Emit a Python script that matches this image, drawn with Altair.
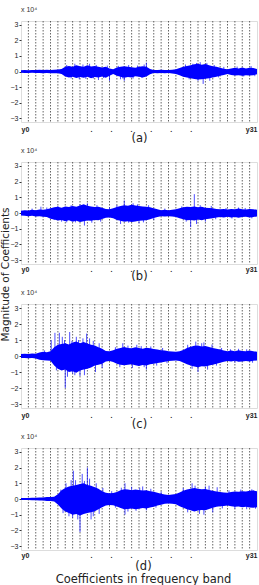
import altair as alt
import pandas as pd

# sample positions along the 32 frequency bands (half-band steps)
X = [i * 0.5 for i in range(65)]

# envelope of the coefficients (x 10^4)
a_hi = [0.08,0.10,0.08,0.10,0.09,0.11,0.10,0.12,0.10,0.12,0.13,0.16,
        0.30,0.36,0.30,0.40,0.34,0.30,0.40,0.32,0.36,0.30,0.26,0.30,0.20,0.14,
        0.26,0.30,0.34,0.30,0.28,0.24,0.30,0.34,0.30,0.16,
        0.10,0.09,0.12,0.10,0.10,0.12,0.15,0.22,
        0.30,0.36,0.40,0.46,0.50,0.44,0.48,0.40,0.34,0.30,0.24,0.18,
        0.14,0.20,0.24,0.20,0.26,0.20,0.24,0.22,0.16]
a_lo = [-0.08,-0.09,-0.10,-0.08,-0.10,-0.09,-0.11,-0.10,-0.12,-0.11,-0.12,-0.16,
        -0.32,-0.38,-0.34,-0.42,-0.36,-0.40,-0.34,-0.44,-0.36,-0.38,-0.32,-0.40,-0.28,-0.16,
        -0.28,-0.34,-0.40,-0.36,-0.38,-0.30,-0.34,-0.38,-0.32,-0.18,
        -0.10,-0.11,-0.10,-0.12,-0.10,-0.13,-0.16,-0.24,
        -0.34,-0.38,-0.44,-0.48,-0.52,-0.50,-0.46,-0.44,-0.38,-0.34,-0.28,-0.22,
        -0.16,-0.22,-0.26,-0.24,-0.28,-0.24,-0.26,-0.24,-0.18]
# isolated spikes (band position, peak value)
a_spx = [6.2, 6.8, 7.3, 7.9, 8.4, 8.8, 9.3, 9.8, 10.2, 10.5, 11.2, 11.7, 12.0,
         13.2, 13.5, 13.8, 14.0, 14.6, 15.2, 15.8, 16.4, 16.7, 17.0,
         22.3, 22.8, 23.3, 23.8, 24.0, 24.3, 24.7, 25.2, 25.6, 26.2, 26.8, 27.5,
         29.3, 30.2, 31.2, 31.7]
a_spv = [0.42, -0.45, 0.50, -0.50, 0.45, -0.48, 0.50, -0.45, 0.42, -0.55, -0.42, 0.38, -0.60,
         0.36, -0.50, -0.45, -0.60, 0.42, -0.45, 0.38, -0.42, 0.45, 0.57,
         0.45, -0.50, 0.50, 0.55, -0.60, 0.60, -0.80, 0.55, -0.60, 0.42, -0.38, 0.30,
         0.32, -0.32, 0.35, -0.30]

b_hi = [0.15,0.18,0.16,0.20,0.18,0.22,0.20,0.24,
        0.30,0.36,0.40,0.34,0.42,0.38,0.44,0.40,0.48,0.55,0.46,0.42,0.38,0.40,0.34,
        0.26,0.24,0.30,
        0.38,0.44,0.50,0.46,0.52,0.48,0.44,0.42,0.40,0.36,0.30,0.24,
        0.18,0.20,0.18,0.20,0.24,
        0.30,0.36,0.40,0.38,0.42,0.36,0.40,0.34,0.32,0.30,0.26,
        0.24,0.26,0.22,0.26,0.24,0.28,0.24,0.22,0.26,0.24,0.20]
b_lo = [-0.16,-0.18,-0.20,-0.17,-0.22,-0.20,-0.24,-0.26,
        -0.36,-0.42,-0.48,-0.44,-0.52,-0.46,-0.56,-0.50,-0.58,-0.52,-0.48,-0.50,-0.44,-0.46,-0.38,
        -0.30,-0.28,-0.34,
        -0.44,-0.50,-0.56,-0.52,-0.58,-0.54,-0.50,-0.48,-0.46,-0.40,-0.32,-0.26,
        -0.20,-0.22,-0.20,-0.22,-0.26,
        -0.34,-0.40,-0.46,-0.44,-0.48,-0.42,-0.46,-0.40,-0.36,-0.34,-0.28,
        -0.26,-0.28,-0.24,-0.28,-0.26,-0.30,-0.26,-0.24,-0.28,-0.26,-0.22]
b_spx = [1.5, 2.7, 3.5, 4.5, 5.0, 5.5, 6.2, 6.8, 7.4, 8.0, 8.6, 9.0, 9.6, 10.3, 10.8,
         12.0, 13.0, 13.5, 14.0, 14.6, 15.2, 15.8, 16.0, 16.6, 17.3, 18.0, 19.5,
         21.8, 22.4, 23.0, 23.5, 23.8, 24.3, 25.0, 25.8, 26.4, 27.8, 28.6, 29.5, 30.4, 31.3]
b_spv = [0.28, 0.40, 0.35, -0.45, 0.45, -0.55, -0.60, 0.50, -0.60, 0.55, -0.80, 0.62, -0.62, 0.50, -0.55,
         0.35, 0.50, -0.70, 0.80, -0.62, 0.62, 0.55, -0.65, -0.60, 0.50, -0.45, 0.28,
         0.42, -0.55, -0.90, 1.20, -0.70, 0.50, -0.55, 0.45, -0.40, 0.32, -0.35, 0.35, 0.32, -0.34]

c_hi = [0.12,0.14,0.12,0.15,0.14,
        0.22,0.26,0.24,0.30,
        0.55,0.70,0.75,0.80,0.72,0.85,0.90,0.80,0.88,0.78,0.70,0.65,0.55,0.45,
        0.32,0.30,0.36,
        0.45,0.50,0.56,0.50,0.48,0.54,0.50,0.46,0.52,0.48,0.44,0.40,0.36,0.34,0.30,0.28,
        0.26,0.30,0.38,
        0.50,0.58,0.64,0.66,0.60,0.62,0.56,0.50,0.46,0.40,0.34,
        0.30,0.34,0.30,0.36,0.32,0.30,0.34,0.30,0.26]
c_lo = [-0.12,-0.13,-0.14,-0.13,-0.15,
        -0.24,-0.26,-0.28,-0.30,
        -0.60,-0.80,-0.90,-0.85,-1.00,-0.95,-1.05,-0.90,-0.85,-0.80,-0.72,-0.60,-0.55,-0.48,
        -0.34,-0.32,-0.38,
        -0.48,-0.54,-0.58,-0.55,-0.52,-0.58,-0.62,-0.56,-0.60,-0.52,-0.48,-0.44,-0.40,-0.36,-0.32,-0.30,
        -0.28,-0.32,-0.40,
        -0.52,-0.60,-0.66,-0.70,-0.64,-0.66,-0.60,-0.54,-0.48,-0.42,-0.36,
        -0.32,-0.34,-0.30,-0.36,-0.34,-0.32,-0.34,-0.30,-0.28]
c_spx = [3.2, 4.1, 4.6, 4.8, 5.2, 5.6, 5.9, 6.0, 6.3, 6.6, 6.9, 7.0, 7.3, 7.5, 7.8, 8.0, 8.4, 8.6,
         8.9, 9.3, 9.8, 10.1, 10.6, 11.0, 12.8, 13.4, 13.8, 14.5, 15.1, 15.7, 16.3, 16.7, 17.0,
         17.6, 18.4, 19.2, 19.8, 22.6, 23.2, 23.7, 24.0, 24.5, 24.8, 25.3, 25.9, 26.5, 27.2,
         28.4, 29.0, 29.5, 30.6, 31.4]
c_spv = [0.35, 1.00, 1.45, -0.90, 1.45, 1.20, 1.00, -2.00, -1.30, 1.50, 0.95, -1.10, -1.20, 1.20, 1.00, -1.25, 1.10, -1.20,
         1.40, 1.10, 0.95, -1.00, 0.80, -0.75, 0.55, -0.70, 0.80, 0.65, -0.75, 0.70, 0.62, -0.70, -0.85,
         0.60, -0.60, 0.50, -0.45, 0.70, -0.80, 0.90, -1.00, 0.80, 0.85, -0.85, 0.72, -0.60, 0.50,
         0.42, -0.42, 0.45, 0.42, -0.42]

d_hi = [0.06,0.07,0.06,0.08,0.08,0.09,0.10,0.12,0.12,0.15,
        0.30,0.55,0.70,0.80,0.85,0.90,0.95,1.00,0.90,0.85,0.75,0.65,0.50,
        0.40,0.36,0.38,0.45,
        0.55,0.62,0.60,0.56,0.60,0.58,0.54,0.56,0.50,0.46,0.40,0.34,
        0.28,0.26,0.28,0.32,
        0.42,0.52,0.60,0.66,0.70,0.66,0.62,0.64,0.58,0.52,0.48,0.44,0.42,
        0.40,0.44,0.48,0.46,0.50,0.48,0.52,0.54,0.50]
d_lo = [-0.06,-0.06,-0.07,-0.08,-0.08,-0.10,-0.10,-0.12,-0.13,-0.16,
        -0.35,-0.60,-0.80,-0.90,-1.00,-0.95,-1.05,-0.95,-0.90,-0.85,-0.78,-0.65,-0.52,
        -0.42,-0.38,-0.40,-0.48,
        -0.58,-0.66,-0.64,-0.60,-0.66,-0.62,-0.58,-0.60,-0.54,-0.50,-0.42,-0.36,
        -0.30,-0.28,-0.30,-0.34,
        -0.46,-0.56,-0.66,-0.72,-0.80,-0.74,-0.70,-0.72,-0.64,-0.56,-0.50,-0.46,-0.44,
        -0.42,-0.46,-0.50,-0.48,-0.52,-0.50,-0.54,-0.56,-0.52]
d_spx = [5.4, 5.7, 6.1, 6.5, 6.8, 7.0, 7.1, 7.4, 7.7, 8.0, 8.3, 8.6, 9.0, 9.3, 9.5, 9.8, 10.2,
         10.6, 11.1, 12.3, 12.8, 13.6, 14.1, 14.1, 14.5, 15.0, 15.6, 16.1, 16.5, 17.0, 17.6,
         18.3, 19.0, 22.0, 22.6, 23.2, 23.6, 24.2, 24.8, 25.0, 25.5, 26.0, 26.6, 27.3, 28.2,
         29.0, 29.8, 30.6, 31.3, 31.5, 31.8]
d_spv = [0.60, -0.90, 1.00, -1.10, 1.20, -1.20, 1.80, 1.20, -1.30, -2.10, 1.60, 1.15, 2.00, 1.30, -1.30, -1.10, 1.00,
         -0.95, 0.70, 0.50, -0.55, 0.72, 1.00, -1.00, -0.80, 0.78, -0.75, 0.72, 0.80, -0.72, 0.65,
         -0.55, 0.48, 0.70, -0.85, 1.00, 0.85, -0.95, -1.00, 0.80, 0.85, -0.85, 0.75, -0.60, 0.55,
         -0.62, 0.60, -0.65, 0.62, 0.55, -0.62]

# band boundaries (dashed grid) and x tick labels
GRID = list(range(1, 32))
TICK_POS = [0, 9.5, 12.2, 14.9, 17.6, 20.3, 23.0, 32]
TICK_TXT = ["y0", ".", ".", ".", ".", ".", ".", "y31"]
Y_TICKS = [-3, -2, -1, 0, 1, 2, 3]

label_expr = "'.'"
for p, t in zip(TICK_POS, TICK_TXT):
    label_expr = f"datum.value == {p} ? '{t}' : ({label_expr})"

FONT = "Liberation Sans"
WIDE = "DejaVu Sans"
BLUE = "#0000ff"


def panel(hi, lo, spx, spv, xtitle, h, lab_pad, title_pad, ytitle=None, title_x=None):
    df = pd.DataFrame({"x": X, "hi": hi, "lo": lo})
    sp = pd.DataFrame({"x": spx, "v": spv})
    gd = pd.DataFrame({"g": GRID})
    xs = alt.Scale(domain=[0, 32], nice=False, zero=False)
    ys = alt.Scale(domain=[-3.25, 3.25], nice=False, zero=False)
    yaxis_kw = dict(values=Y_TICKS, grid=False, tickSize=2, tickColor="#333",
                    labelFontSize=7, labelColor="#222", labelPadding=1,
                    domain=False, labelFont=FONT)
    if ytitle:
        yaxis_kw.update(title=ytitle, titleFontSize=10.5, titleFontWeight="normal",
                        titleFont=WIDE, titleColor="#222", titleX=-11, titleY=112)
    else:
        yaxis_kw.update(title=None)
    yaxis = alt.Axis(**yaxis_kw)
    xaxis_kw = dict(values=TICK_POS, labelExpr=label_expr, grid=False, ticks=False,
                    domain=False, labelFlush=True, labelFontSize=7,
                    labelFontWeight="bold", labelColor="#222", labelPadding=lab_pad,
                    labelFont=FONT, title=xtitle, titleFontSize=11.5,
                    titleFontWeight="normal", titleFont=WIDE, titleColor="#222",
                    titlePadding=title_pad, titleLineHeight=13, labelOverlap=False)
    if title_x is not None:
        xaxis_kw.update(titleX=title_x)
    xaxis = alt.Axis(**xaxis_kw)
    grid = alt.Chart(gd).mark_rule(strokeDash=[1.5, 1.5], color="#222",
                                   strokeWidth=0.7).encode(
        x=alt.X("g:Q", scale=xs, axis=xaxis))
    area = alt.Chart(df).mark_area(color=BLUE, opacity=1).encode(
        x=alt.X("x:Q", scale=xs, axis=xaxis),
        y=alt.Y("lo:Q", scale=ys, axis=yaxis),
        y2="hi:Q")
    spikes = alt.Chart(sp).mark_rule(color=BLUE, strokeWidth=0.7).encode(
        x=alt.X("x:Q", scale=xs, axis=xaxis),
        y=alt.Y("v:Q", scale=ys, axis=yaxis),
        y2=alt.Y2Datum(0))
    return alt.layer(grid, area, spikes).properties(
        width=236, height=h,
        title=alt.TitleParams("x 10\u2074", anchor="start", frame="group", fontSize=7,
                              fontWeight="normal", color="#333", font=FONT, offset=8))


pa = panel(a_hi, a_lo, a_spx, a_spv, "(a)", 101, 3, 0)
pb = panel(b_hi, b_lo, b_spx, b_spv, "(b)", 102, 1, -2, ytitle="Magnitude of Coefficients")
pc = panel(c_hi, c_lo, c_spx, c_spv, "(c)", 104, 3, 0)
pd_ = panel(d_hi, d_lo, d_spx, d_spv, ["(d)", "Coefficients in frequency band"], 102, 1, 2,
            title_x=122)

# fixed origin: plot area of panel (a) starts at (21, 21); page is 259 x 585
chart = alt.vconcat(pa, pb, pc, pd_, spacing=40, bounds="flush").properties(
    autosize=alt.AutoSizeParams(type="none"),
    padding={"left": 21, "top": 21, "right": 2, "bottom": 564}
).configure_view(stroke="black", strokeWidth=0.8).configure(background="white")

chart.save("out.html", embed_options={"renderer": "svg", "actions": False})
